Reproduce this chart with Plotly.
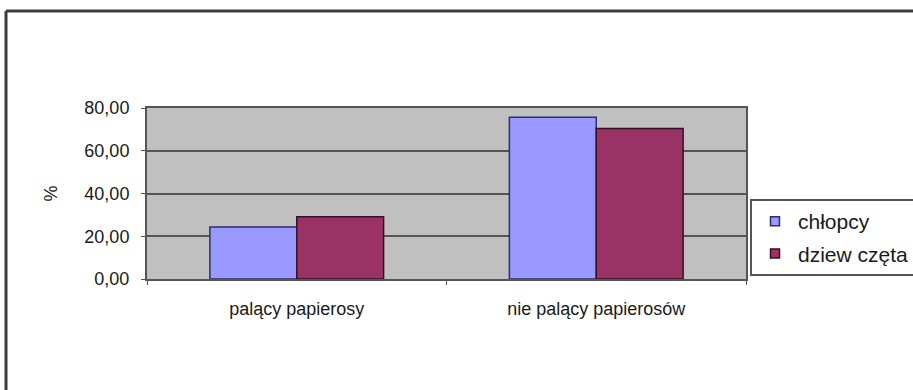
import plotly.graph_objects as go

# Share of smokers / non-smokers by sex (%)
categories = ["palący papierosy", "nie palący papierosów"]
series_names = ["chłopcy", "dziew częta"]
boys = [24.3, 75.7]
girls = [29.1, 70.4]
y_ticks = [0, 20, 40, 60, 80]

fill_colors = ["#9999ff", "#993366"]
edge_colors = ["#2e2e66", "#3a0f22"]

W, H = 913, 390
L, R, T, B = 147, 167, 108, 111
px_w = W - L - R
px_h = H - T - B


def to_paper(xp, yp):
    """Convert a pixel position on the page to paper coordinates."""
    return (xp - L) / px_w, (H - B - yp) / px_h


fig = go.Figure()
for name, vals, fc, ec in zip(series_names, [boys, girls], fill_colors, edge_colors):
    fig.add_trace(go.Bar(
        x=categories, y=vals, name=name, showlegend=False,
        marker=dict(color=fc, line=dict(color=ec, width=1.5)),
    ))
    # legend entry with a small square swatch
    fig.add_trace(go.Scatter(
        x=[None], y=[None], mode="markers", name=name, legendgroup=name,
        marker=dict(symbol="square", size=9, color=fc, line=dict(color=ec, width=1.5)),
    ))

lx, ly = to_paper(750, 199)
fx0, fy0 = to_paper(6, 11)
fx1, _ = to_paper(W + 5, 11)
_, fyb = to_paper(6, H + 5)

fig.update_layout(
    width=W, height=H,
    margin=dict(l=L, r=R, t=T, b=B, autoexpand=False),
    paper_bgcolor="white",
    plot_bgcolor="#c0c0c0",
    barmode="group", bargap=0.42, bargroupgap=0,
    separators=", ",
    font=dict(family="Liberation Sans, Arial, sans-serif", size=18, color="#1a1a1a"),
    showlegend=True,
    legend=dict(
        x=lx, y=ly, xanchor="left", yanchor="top",
        bgcolor="white", bordercolor="#555555", borderwidth=2,
        font=dict(size=21, color="#1a1a1a"),
        tracegroupgap=2, itemwidth=36,
    ),
    yaxis=dict(
        range=[0, 80], tickvals=y_ticks, tickformat=".2f",
        showgrid=True, gridcolor="#555555", gridwidth=2,
        showline=True, linecolor="#555555", linewidth=2, mirror=True,
        ticks="outside", ticklen=4, tickcolor="#555555",
        ticklabelstandoff=8,
        zeroline=False,
        title=dict(text="%", standoff=22, font=dict(size=18)),
    ),
    xaxis=dict(
        showline=True, linecolor="#555555", linewidth=2, mirror=True,
        ticks="outside", ticklen=4, tickcolor="#555555", tickson="boundaries",
        ticklabelstandoff=12,
    ),
    shapes=[
        # outer chart frame: top and left edges
        dict(type="line", xref="paper", yref="paper", x0=fx0, x1=fx1, y0=fy0, y1=fy0,
             line=dict(color="#3c3c3c", width=3)),
        dict(type="line", xref="paper", yref="paper", x0=fx0, x1=fx0, y0=fy0, y1=fyb,
             line=dict(color="#3c3c3c", width=3)),
    ],
)

fig.write_html("out.html")
